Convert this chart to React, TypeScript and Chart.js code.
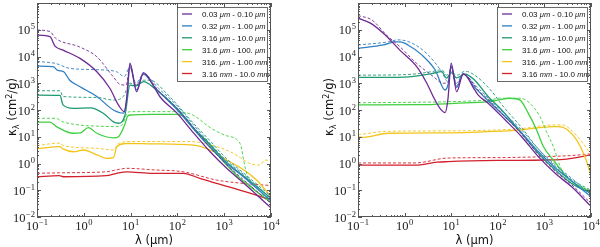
import React, { useEffect, useRef } from "react";
import { Chart, registerables } from "chart.js";
Chart.register(...registerables);

type P = [number, number];

// ---------- categories / labels ----------
const sizeBins = [
  "0.03 μm - 0.10 μm",
  "0.32 μm - 1.00 μm",
  "3.16 μm - 10.0 μm",
  "31.6 μm - 100. μm",
  "316. μm - 1.00 mm",
  "3.16 mm - 10.0 mm",
];
const binColors = ["#6e2a93", "#2f7fc1", "#1d9a70", "#3fcf3f", "#f3c41c", "#d4202c"];
const xTickExps = [-1, 0, 1, 2, 3, 4];
const yTickExps = [-2, -1, 0, 1, 2, 3, 4, 5];
const xTitle = "λ (μm)";

// ---------- left panel: [λ (μm), κ (cm²/g)] ----------
const L_purpleSolid: P[] = [[0.1,6.3e4],[0.19,5.5e4],[0.24,2.5e4],[0.37,1.7e4],[0.83,8.5e3],[1.9,2.7e3],[3.6,650],[5.5,155],[7.3,87],[8.3,300],[9.7,5.6e3],[13.4,480],[18.7,2.5e3],[33,650],[42,320],[97,78],[220,14],[500,2.75],[1130,0.66],[2560,0.19],[1e4,0.022]];
const L_purpleDash: P[] = [[0.1,9.8e4],[0.19,8.5e4],[0.25,4.8e4],[0.8,2.3e4],[1.9,9.8e3],[4.2,1.8e3],[6,900],[8,850],[9.7,4e3],[13,800],[19,2.2e3],[40,500],[100,112],[220,22],[500,4],[1130,0.9],[2560,0.25],[1e4,0.032]];
const L_blueSolid: P[] = [[0.1,4.4e3],[0.22,4.2e3],[0.28,3e3],[0.37,2.7e3],[0.5,1.3e3],[0.83,740],[1.9,320],[4.3,100],[7,76],[8.3,250],[9.7,5e3],[13.4,560],[18.7,2.2e3],[33,700],[100,100],[220,20],[500,4],[1130,1],[2560,0.32],[1e4,0.04]];
const L_blueDash: P[] = [[0.1,6.5e3],[0.25,5.5e3],[0.5,3.6e3],[2,3.2e3],[5,2.7e3],[7.3,1.8e3],[9.7,4e3],[13,1e3],[19,2.2e3],[40,630],[100,140],[220,28],[500,5.6],[1130,1.26],[2560,0.4],[1e4,0.05]];
const L_tealSolid: P[] = [[0.1,360],[0.31,350],[0.36,155],[0.6,115],[1.36,120],[2.6,76],[4.3,36],[5.5,32],[7.6,65],[9.7,850],[13,800],[19,1150],[33,630],[100,112],[220,22],[500,5],[1130,1.1],[2560,0.35],[1e4,0.05]];
const L_tealDash: P[] = [[0.1,525],[0.31,525],[0.36,320],[1.9,295],[4.3,235],[7,320],[9.7,1e3],[13,900],[19,1.3e3],[26,1.3e3],[60,400],[220,32],[500,7],[1130,1.5],[2560,0.45],[1e4,0.06]];
const L_greenSolid: P[] = [[0.1,35],[0.19,35],[0.26,24],[0.6,13.5],[0.85,14],[1.25,22],[1.9,13.5],[4.3,9.1],[5.5,10],[7.6,30],[8.5,56],[9.7,65],[30,69],[100,69],[150,50],[220,20],[400,7.6],[900,1.35],[2000,0.32],[4500,0.1],[1e4,0.035]];
const L_greenDash: P[] = [[0.1,49],[0.25,49],[0.36,36],[0.8,27.5],[1.9,25],[4.3,24],[6.5,27.5],[8.5,76],[9.7,87],[100,87],[220,63],[500,22],[1100,11],[2180,5.6],[2780,0.76],[3550,0.18],[1e4,0.05]];
const L_yellowSolid: P[] = [[0.1,3.5],[0.31,4.3],[0.36,3.5],[0.6,2.75],[1.0,3.2],[1.9,2.1],[3.1,1.55],[4.3,1.66],[5.1,4.3],[8.2,5.6],[30,5.4],[220,4.9],[500,3.2],[1130,1.35],[2600,0.58],[4900,0.24],[1e4,0.058]];
const L_yellowDash: P[] = [[0.1,4.7],[0.31,5.8],[0.36,4.7],[1.9,3.7],[4.3,3.2],[5.5,5.6],[9.7,6.6],[190,6.6],[690,4.3],[1570,2.4],[3540,1.0],[5800,0.87],[7400,1.35],[1e4,1.26]];
const L_redSolid: P[] = [[0.1,0.32],[0.3,0.35],[0.36,0.32],[3,0.35],[5,0.43],[8.2,0.49],[30,0.43],[133,0.43],[300,0.28],[690,0.18],[1570,0.12],[3540,0.078],[1e4,0.044]];
const L_redDash: P[] = [[0.1,0.43],[0.36,0.45],[3,0.49],[5,0.58],[8.2,0.66],[30,0.58],[133,0.49],[690,0.24],[2560,0.18],[1e4,0.15]];

// ---------- right panel ----------
const R_purpleSolid: P[] = [[0.1,2.7e5],[0.18,1.8e5],[0.35,7.4e4],[0.8,1.7e4],[1.82,4.2e3],[3,1e3],[4.1,320],[5.75,115],[7.4,80],[8.5,250],[10,5.6e3],[13.1,480],[18.2,2.3e3],[32,560],[38,360],[62,180],[143,43],[325,10],[740,1.8],[1700,0.43],[3850,0.135],[1e4,0.025]];
const R_purpleDash: P[] = [[0.1,3.4e5],[0.2,2.3e5],[0.41,6.3e4],[0.8,2.3e4],[1.8,5.6e3],[4.1,1.8e3],[6.8,1e3],[8.5,1.1e3],[10,4e3],[13,800],[18,2.2e3],[40,500],[62,250],[143,56],[325,12.6],[740,2.2],[1700,0.52],[3850,0.16],[1e4,0.032]];
const R_blueSolid: P[] = [[0.1,2e4],[0.35,2.7e4],[0.62,3.5e4],[0.8,3.5e4],[1.18,2.7e4],[2.33,1.15e4],[4.5,3.2e3],[7.4,560],[8.7,1e3],[10,4.5e3],[13,700],[18,2.2e3],[32,700],[62,220],[143,56],[325,14],[740,2.8],[1700,0.7],[3850,0.22],[1e4,0.058]];
const R_blueDash: P[] = [[0.1,2.7e4],[0.44,3.5e4],[0.72,4.2e4],[1.42,3.2e4],[3.2,1.15e4],[6.25,2.7e3],[8.5,1.15e3],[10,4e3],[13,1e3],[18,2.3e3],[32,900],[62,280],[143,70],[325,18],[740,3.5],[1700,0.9],[3850,0.28],[1e4,0.07]];
const R_tealSolid: P[] = [[0.1,1.65e3],[1.02,1.7e3],[3.8,2.3e3],[6.25,2.7e3],[8,1.55e3],[10,2.5e3],[13,1.6e3],[19.8,2.2e3],[32,1.3e3],[62,320],[121,100],[325,13.5],[740,2.4],[1700,0.58],[3850,0.18],[1e4,0.078]];
const R_tealDash: P[] = [[0.1,2e3],[1.02,2.1e3],[3.8,2.7e3],[6.25,3.2e3],[8,2e3],[10,2.8e3],[13,2e3],[20,2.8e3],[32,2e3],[74,500],[121,160],[325,22],[740,3.5],[1700,0.8],[3850,0.25],[1e4,0.1]];
const R_greenSolid: P[] = [[0.1,155],[2.3,158],[12,178],[62,204],[100,234],[182,275],[300,234],[450,76],[680,18],[950,4.3],[1550,1.35],[3540,0.24],[1e4,0.089]];
const R_greenDash: P[] = [[0.1,186],[62,234],[111,275],[300,275],[490,178],[805,56],[1110,15.5],[1550,4.3],[1950,1.35],[2500,0.44],[1e4,0.079]];
const R_yellowSolid: P[] = [[0.1,10],[0.12,9.5],[0.45,13.5],[10,14],[62,15.5],[300,17.8],[1550,24],[1950,24],[2900,20],[4900,7.6],[7400,1.8],[1e4,0.37]];
const R_yellowDash: P[] = [[0.1,12],[0.45,16],[10,16.6],[300,20],[1550,27.5],[2500,27.5],[4000,16],[6800,5.6],[1e4,2.1]];
const R_redSolid: P[] = [[0.1,0.87],[1.67,0.87],[5,1.12],[8.5,1.17],[100,1.3],[1000,1.35],[3000,1.45],[1e4,2.1]];
const R_redDash: P[] = [[0.1,1.05],[1.67,1.05],[8.5,1.6],[100,1.66],[1000,1.8],[4000,2],[1e4,2.3]];

const leftSeries = [
  [L_purpleSolid, L_purpleDash], [L_blueSolid, L_blueDash], [L_tealSolid, L_tealDash],
  [L_greenSolid, L_greenDash], [L_yellowSolid, L_yellowDash], [L_redSolid, L_redDash],
];
const rightSeries = [
  [R_purpleSolid, R_purpleDash], [R_blueSolid, R_blueDash], [R_tealSolid, R_tealDash],
  [R_greenSolid, R_greenDash], [R_yellowSolid, R_yellowDash], [R_redSolid, R_redDash],
];

const SERIF = '"Liberation Serif", "DejaVu Serif", serif';
const SANS = '"DejaVu Sans", "Liberation Sans", sans-serif';
const LSANS = '"Liberation Sans", "DejaVu Sans", sans-serif';

function drawPow(ctx: CanvasRenderingContext2D, exp: number, x: number, y: number, align: string) {
  const base = "10";
  const ex = exp < 0 ? "−" + Math.abs(exp) : String(exp);
  ctx.font = `12.5px ${SERIF}`;
  const wb = ctx.measureText(base).width;
  ctx.font = `8.5px ${SERIF}`;
  const we = ctx.measureText(ex).width;
  const total = wb + we + 0.5;
  const sx = align === "right" ? x - total : x - total / 2;
  ctx.textAlign = "left";
  ctx.textBaseline = "alphabetic";
  ctx.font = `12.5px ${SERIF}`;
  ctx.fillText(base, sx, y);
  ctx.font = `8.5px ${SERIF}`;
  ctx.fillText(ex, sx + wb + 0.5, y - 5);
}

function drawRuns(ctx: CanvasRenderingContext2D, runs: { t: string; f: string; dy: number }[], cx: number, cy: number) {
  let w = 0;
  for (const r of runs) { ctx.font = r.f; w += ctx.measureText(r.t).width; }
  let x = cx - w / 2;
  ctx.textAlign = "left";
  ctx.textBaseline = "alphabetic";
  for (const r of runs) {
    ctx.font = r.f;
    ctx.fillText(r.t, x, cy + r.dy);
    x += ctx.measureText(r.t).width;
  }
}

function makeDecor(yTitleX: number) {
  return {
    id: "decor",
    afterDraw(chart: any) {
      const ctx: CanvasRenderingContext2D = chart.ctx;
      const xs = chart.scales.x;
      const ys = chart.scales.y;
      const { left, right, top, bottom } = chart.chartArea;
      ctx.save();
      ctx.strokeStyle = "#555";
      ctx.lineWidth = 1;
      ctx.strokeRect(left + 0.5, top + 0.5, right - left - 1, bottom - top - 1);
      ctx.beginPath();
      for (let e = -1; e <= 4; e++) {
        for (let k = 1; k <= 9; k++) {
          const v = k * Math.pow(10, e);
          if (v < 0.0999 || v > 10001) continue;
          const px = Math.round(xs.getPixelForValue(v)) + 0.5;
          const L = k === 1 ? 4 : 2;
          ctx.moveTo(px, bottom); ctx.lineTo(px, bottom - L);
          ctx.moveTo(px, top); ctx.lineTo(px, top + L);
        }
      }
      for (let e = -2; e <= 5; e++) {
        for (let k = 1; k <= 9; k++) {
          const v = k * Math.pow(10, e);
          if (v < 0.00999 || v > 1.0001e6) continue;
          const py = Math.round(ys.getPixelForValue(v)) + 0.5;
          const L = k === 1 ? 4 : 2;
          ctx.moveTo(left, py); ctx.lineTo(left + L, py);
          ctx.moveTo(right, py); ctx.lineTo(right - L, py);
        }
      }
      ctx.stroke();

      ctx.fillStyle = "#222";
      for (const e of xTickExps) {
        drawPow(ctx, e, xs.getPixelForValue(Math.pow(10, e)), 230, "center");
      }
      for (const e of yTickExps) {
        drawPow(ctx, e, left - 2, ys.getPixelForValue(Math.pow(10, e)) + 4.5, "right");
      }

      // x title
      ctx.fillStyle = "#111";
      drawRuns(ctx, [{ t: xTitle, f: `11.5px ${SANS}`, dy: 0 }], (left + right) / 2, 244);

      // y title (rotated)
      ctx.save();
      ctx.translate(yTitleX, 107);
      ctx.rotate(-Math.PI / 2);
      drawRuns(ctx, [
        { t: "κ", f: `11.5px ${SANS}`, dy: 0 },
        { t: "λ", f: `8px ${SANS}`, dy: 2.5 },
        { t: " (cm", f: `11.5px ${SANS}`, dy: 0 },
        { t: "2", f: `8px ${SANS}`, dy: -4.5 },
        { t: "/g)", f: `11.5px ${SANS}`, dy: 0 },
      ], 0, 4);
      ctx.restore();

      // legend
      const bw = 90, bh = 74;
      const bx = right - 4 - bw, by = top + 4;
      ctx.fillStyle = "#fff";
      ctx.fillRect(bx, by, bw, bh);
      ctx.strokeStyle = "#444";
      ctx.lineWidth = 0.8;
      ctx.strokeRect(bx + 0.5, by + 0.5, bw, bh);
      sizeBins.forEach((lab, i) => {
        const ry = by + 7 + i * 11.9;
        ctx.strokeStyle = binColors[i];
        ctx.lineWidth = 1.3;
        ctx.beginPath();
        ctx.moveTo(bx + 5, ry); ctx.lineTo(bx + 15, ry);
        ctx.stroke();
        const parts = lab.split(/(μm|mm)/).filter((s) => s.length > 0);
        let x = bx + 25;
        ctx.fillStyle = "#111";
        ctx.textAlign = "left";
        ctx.textBaseline = "alphabetic";
        for (const p of parts) {
          const unit = p === "μm" || p === "mm";
          ctx.font = unit ? `italic 7.5px ${LSANS}` : `8px ${LSANS}`;
          ctx.fillText(p, x, ry + 3);
          x += ctx.measureText(p).width;
        }
      });
      ctx.restore();
    },
  };
}

function buildConfig(series: P[][][], yWidth: number, padRight: number, yTitleX: number): any {
  const datasets: any[] = [];
  series.forEach((pair, i) => {
    datasets.push({
      data: pair[0].map(([x, y]) => ({ x, y })),
      borderColor: binColors[i],
      borderWidth: 1.3,
      pointRadius: 0,
      fill: false,
      cubicInterpolationMode: "monotone",
    });
    datasets.push({
      data: pair[1].map(([x, y]) => ({ x, y })),
      borderColor: binColors[i],
      borderWidth: 0.9,
      borderDash: [3, 2],
      pointRadius: 0,
      fill: false,
      cubicInterpolationMode: "monotone",
    });
  });
  return {
    type: "line",
    data: { datasets },
    options: {
      animation: false,
      responsive: false,
      devicePixelRatio: 1,
      layout: { padding: { top: 3, right: padRight, left: 0, bottom: 0 } },
      plugins: { legend: { display: false }, tooltip: { enabled: false } },
      scales: {
        x: {
          type: "logarithmic", min: 0.1, max: 1e4,
          ticks: { display: false }, grid: { display: false }, border: { display: false },
          afterFit: (s: any) => { s.height = 30; },
        },
        y: {
          type: "logarithmic", min: 0.01, max: 1e6,
          ticks: { display: false }, grid: { display: false }, border: { display: false },
          afterFit: (s: any) => { s.width = yWidth; },
        },
      },
    },
    plugins: [makeDecor(yTitleX)],
  };
}

function Panel(props: { series: P[][][]; yWidth: number; padRight: number; yTitleX: number }) {
  const ref = useRef<HTMLCanvasElement | null>(null);
  useEffect(() => {
    const chart = new Chart(ref.current as HTMLCanvasElement, buildConfig(props.series, props.yWidth, props.padRight, props.yTitleX));
    return () => chart.destroy();
  }, []);
  return <canvas ref={ref} width={300} height={247} style={{ display: "block", width: 300, height: 247 }} />;
}

export default function App() {
  return (
    <div style={{ position: "absolute", left: 0, top: 0, width: 600, height: 247, display: "flex", background: "#fff" }}>
      <Panel series={leftSeries} yWidth={37} padRight={29} yTitleX={12} />
      <Panel series={rightSeries} yWidth={58} padRight={9} yTitleX={29} />
    </div>
  );
}
